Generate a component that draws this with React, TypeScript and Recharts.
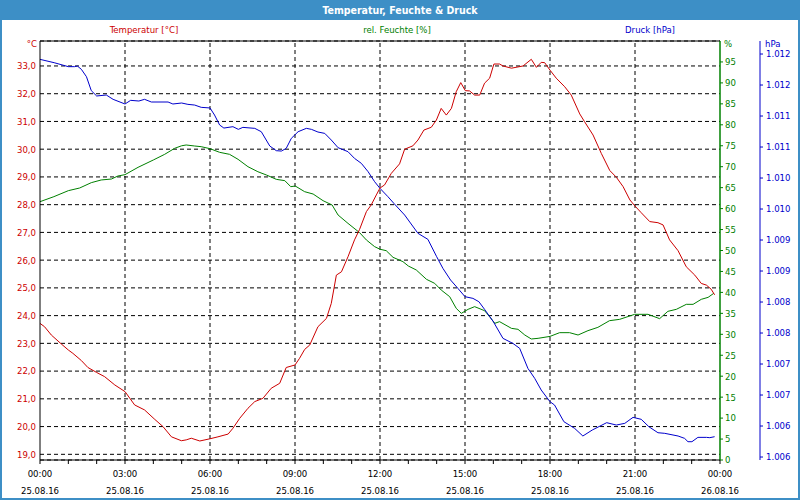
import React from 'react';
import { ComposedChart, Line, XAxis, YAxis, CartesianGrid, ReferenceLine } from 'recharts';

// ---- data (hours since 25.08.16 00:00) ----
const tempHours = [0, 0.16, 0.4, 0.75, 1.0, 1.16, 1.46, 1.69, 2.0, 2.28, 2.64, 3.0, 3.34, 3.69, 4.05, 4.34, 4.64, 4.99, 5.16, 5.34, 5.64, 6.0, 6.28, 6.64, 6.81, 7.05, 7.34, 7.58, 7.87, 8.16, 8.46, 8.69, 9.0, 9.16, 9.34, 9.52, 9.81, 10.11, 10.28, 10.46, 10.64, 10.87, 11.1, 11.28, 11.52, 11.69, 11.87, 12.0, 12.16, 12.4, 12.69, 12.87, 13.16, 13.34, 13.55, 13.81, 13.99, 14.16, 14.34, 14.52, 14.69, 14.85, 15.01, 15.16, 15.34, 15.52, 15.69, 15.87, 16.02, 16.22, 16.34, 16.64, 17.05, 17.34, 17.52, 17.69, 17.81, 18.0, 18.22, 18.52, 18.75, 19.05, 19.22, 19.52, 19.81, 20.11, 20.34, 20.58, 20.82, 21.0, 21.22, 21.52, 21.81, 21.99, 22.22, 22.52, 22.81, 23.11, 23.34, 23.52, 23.69, 23.81];
const tempValues = [23.72, 23.6, 23.3, 22.98, 22.76, 22.64, 22.38, 22.13, 21.95, 21.8, 21.5, 21.26, 20.78, 20.6, 20.26, 20.0, 19.63, 19.49, 19.52, 19.58, 19.48, 19.56, 19.63, 19.73, 19.94, 20.3, 20.66, 20.9, 21.02, 21.38, 21.56, 22.13, 22.22, 22.46, 22.78, 22.94, 23.6, 23.9, 24.44, 25.46, 25.58, 26.12, 26.73, 27.11, 27.75, 27.99, 28.35, 28.6, 28.71, 29.13, 29.47, 30.0, 30.12, 30.33, 30.69, 30.79, 31.05, 31.47, 31.23, 31.47, 32.07, 32.4, 32.11, 32.1, 31.95, 31.95, 32.38, 32.56, 33.07, 33.07, 33.0, 32.92, 33.0, 33.24, 32.95, 33.13, 33.12, 32.85, 32.56, 32.25, 31.95, 31.27, 30.99, 30.51, 29.85, 29.23, 28.99, 28.65, 28.17, 27.95, 27.71, 27.39, 27.35, 27.27, 26.73, 26.34, 25.76, 25.46, 25.16, 25.1, 24.95, 24.75];

const humHours = [0, 0.49, 1.0, 1.4, 1.81, 2.16, 2.52, 2.75, 3.0, 3.46, 4.0, 4.4, 4.75, 5.0, 5.16, 5.46, 5.69, 6.0, 6.34, 6.69, 6.99, 7.34, 7.69, 8.0, 8.34, 8.64, 8.85, 9.01, 9.34, 9.64, 9.99, 10.31, 10.52, 10.87, 11.28, 11.52, 11.81, 12.0, 12.22, 12.46, 12.81, 13.0, 13.28, 13.64, 13.93, 14.16, 14.46, 14.69, 14.87, 15.11, 15.34, 15.69, 15.87, 16.05, 16.22, 16.64, 16.87, 17.11, 17.34, 17.58, 18.0, 18.34, 18.69, 18.99, 19.34, 19.69, 20.1, 20.46, 20.99, 21.46, 21.87, 22.16, 22.46, 22.81, 23.05, 23.34, 23.58, 23.78];
const humValues = [61.65, 62.85, 64.28, 64.92, 66.19, 66.83, 67.06, 67.78, 68.1, 69.85, 71.6, 72.95, 74.38, 75.0, 75.18, 74.94, 74.78, 74.3, 73.43, 72.95, 71.76, 70.0, 68.8, 68.0, 66.98, 66.67, 65.23, 65.39, 64.04, 63.48, 61.89, 60.86, 58.47, 56.48, 54.26, 52.51, 50.92, 50.3, 49.96, 48.37, 47.34, 46.3, 45.35, 43.12, 42.16, 40.57, 38.98, 36.2, 35.0, 35.96, 36.6, 35.64, 34.21, 32.62, 33.02, 31.42, 31.19, 29.83, 28.88, 29.04, 29.5, 30.39, 30.39, 29.83, 30.87, 31.66, 33.25, 33.57, 34.77, 34.77, 33.73, 35.48, 35.96, 37.15, 37.15, 38.35, 38.82, 39.78];

const pressHours = [0, 0.5, 1.0, 1.22, 1.32, 1.46, 1.64, 1.81, 2.0, 2.34, 2.58, 3.0, 3.2, 3.49, 3.69, 3.93, 4.52, 4.69, 5.0, 5.22, 5.46, 5.69, 6.0, 6.16, 6.34, 6.49, 6.81, 7.0, 7.16, 7.58, 7.81, 8.11, 8.34, 8.52, 8.69, 8.87, 9.11, 9.4, 9.58, 9.81, 10.05, 10.28, 10.52, 10.87, 11.1, 11.34, 11.58, 11.81, 12.0, 12.28, 12.49, 12.87, 13.34, 13.69, 14.0, 14.22, 14.49, 14.75, 15.0, 15.28, 15.49, 15.69, 16.0, 16.34, 16.69, 16.93, 17.22, 17.46, 17.69, 18.0, 18.16, 18.49, 18.87, 19.16, 19.49, 20.0, 20.34, 20.64, 20.93, 21.22, 21.49, 21.81, 22.05, 22.52, 22.75, 22.87, 23.01, 23.22, 23.52, 23.64, 23.81];
const pressValues = [1011.914, 1011.86, 1011.796, 1011.796, 1011.806, 1011.753, 1011.634, 1011.409, 1011.323, 1011.339, 1011.269, 1011.194, 1011.253, 1011.242, 1011.269, 1011.226, 1011.226, 1011.194, 1011.21, 1011.188, 1011.177, 1011.14, 1011.13, 1011.016, 1010.855, 1010.806, 1010.828, 1010.785, 1010.817, 1010.801, 1010.747, 1010.516, 1010.441, 1010.435, 1010.478, 1010.64, 1010.747, 1010.801, 1010.785, 1010.742, 1010.72, 1010.613, 1010.489, 1010.425, 1010.317, 1010.237, 1010.102, 1009.941, 1009.833, 1009.699, 1009.591, 1009.403, 1009.108, 1009.011, 1008.731, 1008.543, 1008.355, 1008.22, 1008.086, 1008.059, 1008.005, 1007.882, 1007.683, 1007.414, 1007.333, 1007.253, 1006.93, 1006.769, 1006.581, 1006.392, 1006.339, 1006.07, 1005.962, 1005.839, 1005.935, 1006.054, 1006.016, 1006.043, 1006.14, 1006.108, 1005.989, 1005.892, 1005.882, 1005.839, 1005.801, 1005.747, 1005.747, 1005.817, 1005.817, 1005.812, 1005.828];

// ---- axes ----
const hourTicks = [0, 1, 2, 3, 4, 5, 6, 7, 8, 9, 10, 11, 12, 13, 14, 15, 16, 17, 18, 19, 20, 21, 22, 23, 24];
const majorHours = [0, 3, 6, 9, 12, 15, 18, 21, 24];
const timeLabels = ['00:00', '03:00', '06:00', '09:00', '12:00', '15:00', '18:00', '21:00', '00:00'];
const dateLabels = ['25.08.16', '25.08.16', '25.08.16', '25.08.16', '25.08.16', '25.08.16', '25.08.16', '25.08.16', '26.08.16'];
const tempTicks = [19, 20, 21, 22, 23, 24, 25, 26, 27, 28, 29, 30, 31, 32, 33];
const humTicks = [0, 5, 10, 15, 20, 25, 30, 35, 40, 45, 50, 55, 60, 65, 70, 75, 80, 85, 90, 95];
const pressTicks = [1005.5, 1006, 1006.5, 1007, 1007.5, 1008, 1008.5, 1009, 1009.5, 1010, 1010.5, 1011, 1011.5, 1012];
const tempDomain = [18.795, 33.9];
const humDomain = [0, 100];
const pressDomain = [1005.452, 1012.21];

const tempData = tempHours.map((h, i) => ({ h, v: tempValues[i] }));
const humData = humHours.map((h, i) => ({ h, v: humValues[i] }));
const pressData = pressHours.map((h, i) => ({ h, v: pressValues[i] }));

const RED = '#cc0000';
const GREEN = '#008000';
const BLUE = '#0000cc';
const FRAME = '#3d8fc6';
const FONT = '"DejaVu Sans Condensed", "Liberation Sans", Arial, sans-serif';
const FS = 9.5;

const XTick = (props: any) => {
  const { x, y, payload } = props;
  const idx = majorHours.indexOf(payload.value);
  return (
    <g>
      <line x1={x} x2={x} y1={y} y2={y + 4} stroke="#000" />
      {idx >= 0 && (
        <text x={x} y={y + 16.5} textAnchor="middle" fontSize={FS} fill="#000">{timeLabels[idx]}</text>
      )}
      {idx >= 0 && (
        <text x={x} y={y + 33.5} textAnchor="middle" fontSize={FS} fill="#000">{dateLabels[idx]}</text>
      )}
    </g>
  );
};

const abs = (s: React.CSSProperties): React.CSSProperties => ({ position: 'absolute', whiteSpace: 'nowrap', fontSize: FS, lineHeight: '12px', ...s });

export default function App() {
  return (
    <div style={{ position: 'fixed', left: 0, top: 0, width: 800, height: 500, background: '#fff', fontFamily: FONT, overflow: 'hidden' }}>
      <div style={{ position: 'absolute', left: 0, top: 0 }}>
        <ComposedChart width={800} height={500} margin={{ top: 41, right: 0, bottom: 0, left: 0 }}>
          <CartesianGrid xAxisId="x" yAxisId="t" vertical={false} stroke="#000" strokeDasharray="4 3" />
          <XAxis xAxisId="x" type="number" dataKey="h" domain={[0, 24]} allowDataOverflow ticks={hourTicks} interval={0}
            height={40} tickLine={false} tickSize={0} tickMargin={0} axisLine={{ stroke: '#000' }}
            tick={(p: any) => <XTick {...p} />} />
          <YAxis yAxisId="t" orientation="left" width={40} type="number" domain={tempDomain} allowDataOverflow ticks={tempTicks} interval={0}
            tickLine={false} tickSize={0} tickMargin={4} axisLine={{ stroke: '#000' }}
            tick={{ fill: RED, fontSize: FS }} tickFormatter={(v: number) => v.toFixed(1).replace('.', ',')} />
          <YAxis yAxisId="h" orientation="right" width={40} type="number" domain={humDomain} allowDataOverflow ticks={humTicks} interval={0}
            tickSize={3} tickMargin={2} tickLine={{ stroke: GREEN }} axisLine={{ stroke: GREEN, strokeWidth: 1.5 }}
            tick={{ fill: GREEN, fontSize: FS }} />
          <YAxis yAxisId="p" orientation="right" width={40} type="number" domain={pressDomain} allowDataOverflow ticks={pressTicks} interval={0}
            tickSize={3} tickMargin={3} tickLine={{ stroke: BLUE }} axisLine={{ stroke: BLUE }}
            tick={{ fill: BLUE, fontSize: FS }} tickFormatter={(v: number) => (Math.round(v) / 1000).toFixed(3)} />
          {majorHours.slice(1, -1).map((h) => (
            <ReferenceLine key={h} xAxisId="x" yAxisId="t" x={h} stroke="#000" strokeDasharray="4 3" />
          ))}
          <ReferenceLine xAxisId="x" yAxisId="t" y={tempDomain[1]} stroke="#000" />
          <Line xAxisId="x" yAxisId="h" data={humData} dataKey="v" type="linear" stroke={GREEN} strokeWidth={1} dot={false} activeDot={false} isAnimationActive={false} />
          <Line xAxisId="x" yAxisId="p" data={pressData} dataKey="v" type="linear" stroke={BLUE} strokeWidth={1} dot={false} activeDot={false} isAnimationActive={false} />
          <Line xAxisId="x" yAxisId="t" data={tempData} dataKey="v" type="linear" stroke={RED} strokeWidth={1} dot={false} activeDot={false} isAnimationActive={false} />
        </ComposedChart>
      </div>
      <div style={{ position: 'absolute', left: 0, top: 0, width: 800, height: 20, background: FRAME, color: '#fff', fontWeight: 'bold', fontSize: 10.5, lineHeight: '20px', textAlign: 'center' }}>
        Temperatur, Feuchte &amp; Druck
      </div>
      <div style={abs({ left: 144, top: 24, transform: 'translateX(-50%)', color: RED })}>Temperatur [°C]</div>
      <div style={abs({ left: 397, top: 24, transform: 'translateX(-50%)', color: GREEN })}>rel. Feuchte [%]</div>
      <div style={abs({ left: 650, top: 24, transform: 'translateX(-50%)', color: BLUE })}>Druck [hPa]</div>
      <div style={abs({ right: 763, top: 38, color: RED })}>°C</div>
      <div style={abs({ left: 724, top: 38, color: GREEN })}>%</div>
      <div style={abs({ left: 765, top: 38, color: BLUE })}>hPa</div>
      <div style={{ position: 'absolute', left: 0, top: 0, width: 800, height: 500, boxSizing: 'border-box', border: `2px solid ${FRAME}`, pointerEvents: 'none' }} />
    </div>
  );
}
